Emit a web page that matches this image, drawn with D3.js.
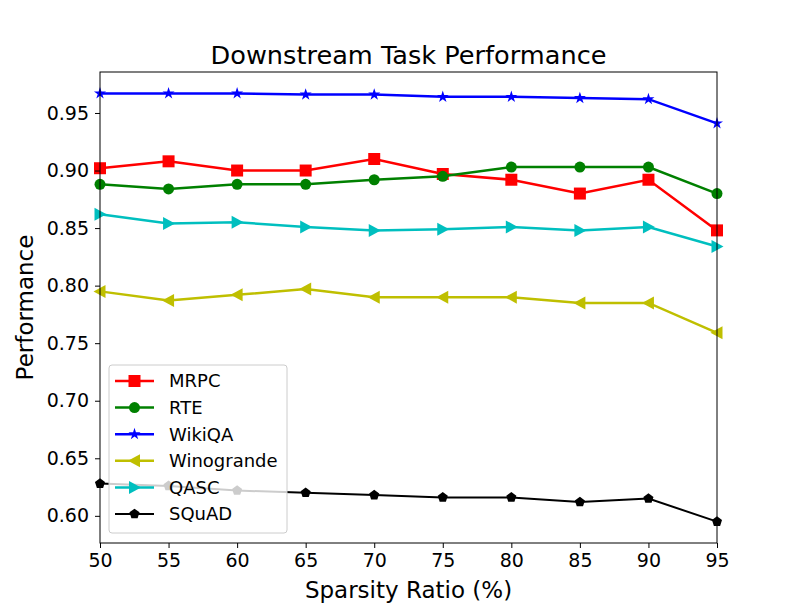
<!DOCTYPE html>
<html>
<head>
<meta charset="utf-8">
<script src="https://cdn.jsdelivr.net/npm/d3@7"></script>
<style>
  body { margin: 0; background: #fff; }
  svg { font-family: "DejaVu Sans", sans-serif; }
</style>
</head>
<body>
<svg id="chart"></svg>
<script>
const sparsity = [50, 55, 60, 65, 70, 75, 80, 85, 90, 95];
const xTicks = [50, 55, 60, 65, 70, 75, 80, 85, 90, 95];
const yTicks = [0.60, 0.65, 0.70, 0.75, 0.80, 0.85, 0.90, 0.95];

const mrpc = [0.902, 0.908, 0.900, 0.900, 0.910, 0.897, 0.892, 0.880, 0.892, 0.848];
const rte = [0.888, 0.884, 0.888, 0.888, 0.892, 0.895, 0.903, 0.903, 0.903, 0.880];
const wikiqa = [0.967, 0.967, 0.967, 0.966, 0.966, 0.964, 0.964, 0.963, 0.962, 0.941];
const winogrande = [0.795, 0.787, 0.792, 0.797, 0.790, 0.790, 0.790, 0.785, 0.785, 0.759];
const qasc = [0.862, 0.854, 0.855, 0.851, 0.848, 0.849, 0.851, 0.848, 0.851, 0.834];
const squad = [0.628, 0.626, 0.622, 0.620, 0.618, 0.616, 0.616, 0.612, 0.615, 0.595];

const series = [
  { name: 'MRPC', values: mrpc, color: '#ff0000', marker: 'square' },
  { name: 'RTE', values: rte, color: '#008000', marker: 'circle' },
  { name: 'WikiQA', values: wikiqa, color: '#0000ff', marker: 'star' },
  { name: 'Winogrande', values: winogrande, color: '#bfbf00', marker: 'triLeft' },
  { name: 'QASC', values: qasc, color: '#00bfbf', marker: 'triRight' },
  { name: 'SQuAD', values: squad, color: '#000000', marker: 'pentagon' }
];

const width = 798, height = 610;
const margin = { left: 100, right: 81, top: 72, bottom: 67 };

const svg = d3.select('#chart').attr('width', width).attr('height', height);

const allVals = series.flatMap(s => s.values);
const yMin = d3.min(allVals), yMax = d3.max(allVals);
const pad = (yMax - yMin) * 0.05;

const x = d3.scaleLinear().domain([50, 95]).range([margin.left, width - margin.right]);
const y = d3.scaleLinear().domain([yMin - pad, yMax + pad]).range([height - margin.bottom, margin.top]);

// markers
function markerPath(type) {
  switch (type) {
    case 'square': return 'M-6,-6H6V6H-6Z';
    case 'circle': return d3.symbol(d3.symbolCircle, Math.PI * 5.5 * 5.5)();
    case 'star': return d3.symbol(d3.symbolStar, 45)();
    case 'triLeft': return 'M-6.5,0L5.5,-6.5L5.5,6.5Z';
    case 'triRight': return 'M6.5,0L-5.5,-6.5L-5.5,6.5Z';
    case 'pentagon': {
      const r = 5.3;
      const pts = d3.range(5).map(i => {
        const a = -Math.PI / 2 + i * 2 * Math.PI / 5;
        return [r * Math.cos(a), r * Math.sin(a)];
      });
      return 'M' + pts.map(p => p.join(',')).join('L') + 'Z';
    }
  }
}

const plot = svg.append('g');
plot.append('clipPath').attr('id', 'clip')
  .append('rect')
  .attr('x', margin.left - 8).attr('y', margin.top)
  .attr('width', width - margin.left - margin.right + 16)
  .attr('height', height - margin.top - margin.bottom);

const line = d3.line().x((d, i) => x(sparsity[i])).y(d => y(d));

const lines = plot.append('g').attr('clip-path', 'url(#clip)');
series.forEach(s => {
  const g = lines.append('g');
  g.append('path')
    .attr('d', line(s.values))
    .attr('fill', 'none')
    .attr('stroke', s.color)
    .attr('stroke-width', s.name === 'SQuAD' ? 2 : 2.5);
  g.selectAll('path.m')
    .data(s.values)
    .enter().append('path')
    .attr('class', 'm')
    .attr('transform', (d, i) => `translate(${x(sparsity[i])},${y(d)})`)
    .attr('d', markerPath(s.marker))
    .attr('fill', s.color);
});

// axes
const xAxis = d3.axisBottom(x).tickValues(xTicks).tickSize(5).tickPadding(5.5).tickFormat(d3.format('d'));
const yAxis = d3.axisLeft(y).tickValues(yTicks).tickSize(5).tickPadding(6).tickFormat(d3.format('.2f'));

const gx = svg.append('g').attr('transform', `translate(0,${height - margin.bottom})`).call(xAxis);
const gy = svg.append('g').attr('transform', `translate(${margin.left},0)`).call(yAxis);
[gx, gy].forEach(g => {
  g.select('.domain').remove();
  g.selectAll('text').attr('font-size', 19).attr('fill', '#000').attr('font-family', '"DejaVu Sans", sans-serif');
  g.selectAll('line').attr('stroke', '#000').attr('stroke-width', 1);
});

// frame
svg.append('rect')
  .attr('x', margin.left).attr('y', margin.top)
  .attr('width', width - margin.left - margin.right)
  .attr('height', height - margin.top - margin.bottom)
  .attr('fill', 'none').attr('stroke', '#000').attr('stroke-width', 1);

// title and labels
svg.append('text')
  .attr('x', (margin.left + width - margin.right) / 2).attr('y', 64)
  .attr('text-anchor', 'middle').attr('font-size', 25.6)
  .text('Downstream Task Performance');

svg.append('text')
  .attr('x', (margin.left + width - margin.right) / 2).attr('y', 598)
  .attr('text-anchor', 'middle').attr('font-size', 23)
  .text('Sparsity Ratio (%)');

svg.append('text')
  .attr('transform', `translate(33,${(margin.top + height - margin.bottom) / 2}) rotate(-90)`)
  .attr('text-anchor', 'middle').attr('font-size', 23)
  .text('Performance');

// legend
const legend = svg.append('g').attr('transform', 'translate(109,365)');
legend.append('rect')
  .attr('width', 178).attr('height', 168).attr('rx', 3)
  .attr('fill', '#fff').attr('fill-opacity', 0.8)
  .attr('stroke', '#cccccc').attr('stroke-width', 1);

series.forEach((s, i) => {
  const yy = 16 + i * 26.6;
  legend.append('line')
    .attr('x1', 6).attr('x2', 45).attr('y1', yy).attr('y2', yy)
    .attr('stroke', s.color).attr('stroke-width', s.name === 'SQuAD' ? 2 : 2.5);
  legend.append('path')
    .attr('transform', `translate(25.5,${yy})`)
    .attr('d', markerPath(s.marker))
    .attr('fill', s.color);
  legend.append('text')
    .attr('x', 60).attr('y', yy).attr('dy', '0.36em')
    .attr('font-size', 18)
    .text(s.name);
});
</script>
</body>
</html>
